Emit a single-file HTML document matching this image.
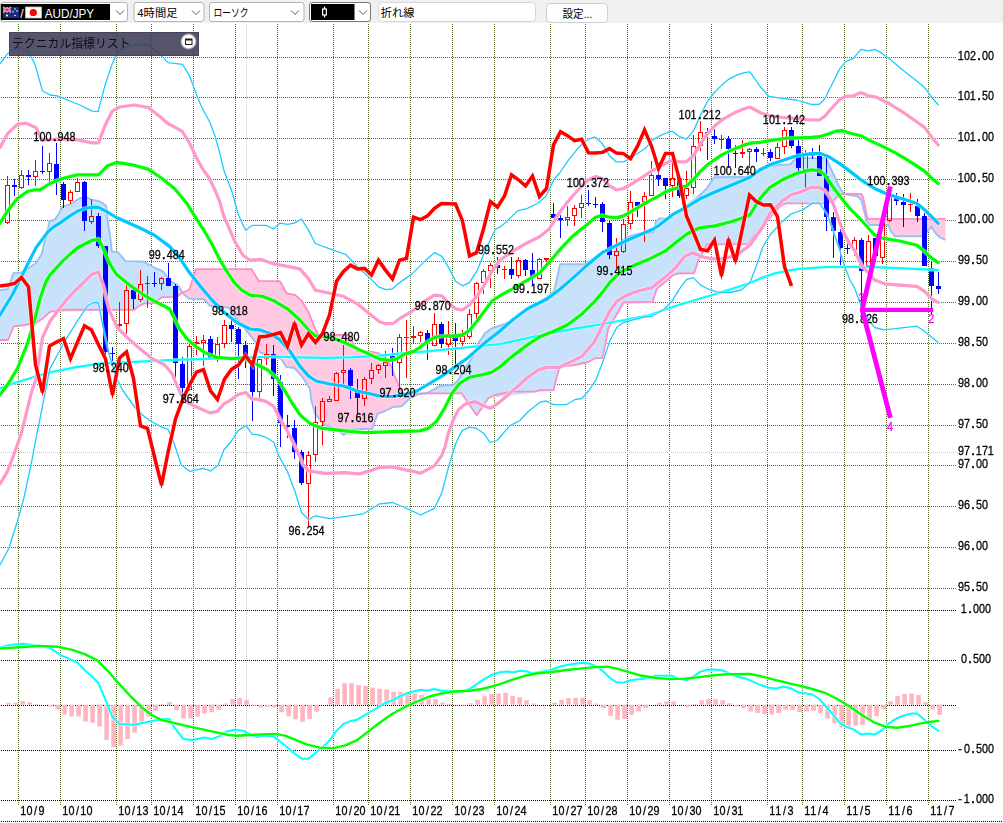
<!DOCTYPE html>
<html><head><meta charset="utf-8"><title>AUD/JPY chart</title>
<style>
html,body{margin:0;padding:0;background:#fff;overflow:hidden}
body{width:1003px;height:823px;position:relative;font-family:"Liberation Sans",sans-serif}
text{white-space:pre}
</style></head><body>
<svg width="1003" height="823" viewBox="0 0 1003 823" style="position:absolute;left:0;top:0">
<g shape-rendering="crispEdges" fill="none" stroke-width="1">
<g stroke="#556b2f" stroke-dasharray="1 1">
<line x1="18.5" y1="24" x2="18.5" y2="806"/>
<line x1="60.5" y1="24" x2="60.5" y2="806"/>
<line x1="116.5" y1="24" x2="116.5" y2="806"/>
<line x1="151.5" y1="24" x2="151.5" y2="806"/>
<line x1="193.5" y1="24" x2="193.5" y2="806"/>
<line x1="235.5" y1="24" x2="235.5" y2="806"/>
<line x1="277.5" y1="24" x2="277.5" y2="806"/>
<line x1="333.5" y1="24" x2="333.5" y2="806"/>
<line x1="368.5" y1="24" x2="368.5" y2="806"/>
<line x1="410.5" y1="24" x2="410.5" y2="806"/>
<line x1="452.5" y1="24" x2="452.5" y2="806"/>
<line x1="494.5" y1="24" x2="494.5" y2="806"/>
<line x1="550.5" y1="24" x2="550.5" y2="806"/>
<line x1="585.5" y1="24" x2="585.5" y2="806"/>
<line x1="627.5" y1="24" x2="627.5" y2="806"/>
<line x1="669.5" y1="24" x2="669.5" y2="806"/>
<line x1="711.5" y1="24" x2="711.5" y2="806"/>
<line x1="767.5" y1="24" x2="767.5" y2="806"/>
<line x1="802.5" y1="24" x2="802.5" y2="806"/>
<line x1="844.5" y1="24" x2="844.5" y2="806"/>
<line x1="886.5" y1="24" x2="886.5" y2="806"/>
<line x1="928.5" y1="24" x2="928.5" y2="806"/>
<line x1="1" y1="57.5" x2="957" y2="57.5"/>
<line x1="1" y1="97.5" x2="957" y2="97.5"/>
<line x1="1" y1="138.5" x2="957" y2="138.5"/>
<line x1="1" y1="179.5" x2="957" y2="179.5"/>
<line x1="1" y1="220.5" x2="957" y2="220.5"/>
<line x1="1" y1="261.5" x2="957" y2="261.5"/>
<line x1="1" y1="302.5" x2="957" y2="302.5"/>
<line x1="1" y1="343.5" x2="957" y2="343.5"/>
<line x1="1" y1="384.5" x2="957" y2="384.5"/>
<line x1="1" y1="425.5" x2="957" y2="425.5"/>
<line x1="1" y1="465.5" x2="957" y2="465.5"/>
<line x1="1" y1="506.5" x2="957" y2="506.5"/>
<line x1="1" y1="547.5" x2="957" y2="547.5"/>
<line x1="1" y1="588.5" x2="957" y2="588.5"/>
</g>
<g stroke="#c8c8c8" stroke-dasharray="1 1"><line x1="246.5" y1="24" x2="246.5" y2="800"/><line x1="1" y1="452.5" x2="957" y2="452.5"/></g>
<g stroke="#000" stroke-dasharray="1 1">
<line x1="1" y1="610.5" x2="957" y2="610.5"/>
<line x1="1" y1="660.5" x2="957" y2="660.5"/>
<line x1="1" y1="705.5" x2="957" y2="705.5"/>
<line x1="1" y1="750.5" x2="957" y2="750.5"/>
<line x1="1" y1="800.5" x2="957" y2="800.5"/>
<line x1="1" y1="821.5" x2="1003" y2="821.5"/>
</g></g>
<polygon fill="#c8e2fb" points="0,290 7.5,289.2 13.5,273.3 22,272.3 36,263 41.5,254.5 48.5,226.4 49.5,221.3 55,219.4 62.5,206.3 70,204.4 80,198.1 87.5,197.5 91.5,200 97.5,200.6 106,206 106.5,208.6 107.5,220 110,235 112,251.8 118,252.4 125.5,261 144,261.9 162.5,271.1 171.5,281.9 177.5,284.9 183,293.1 183,292.3 181.5,292.9 178,296.1 161.5,297.4 155,303 144,303.6 134.5,309.7 50,311.9 36.5,322.4 14,326.3 13.5,327 8,340 0,340"/>
<polygon fill="#ffc8e3" points="183,293.1 189,298.6 203.5,299.2 210,305.8 228,307.5 255,341.7 260,352.5 281,358.7 286.5,367 294.5,368 309.5,388.2 310,389.6 311.5,400.7 315,413.8 325,425 337.5,430 343.5,434.8 344,434.9 347.5,432.5 350,429.4 372.5,428.8 377.5,413.8 393.5,407 401.5,406.3 410,398.3 418.5,394.2 427,393.1 427,393.3 403.5,393.3 400,388.3 391.5,366.4 387,360 379.5,353.6 357.5,351.1 357,350.7 348.5,335 318.5,335 318,334.4 308.5,312.2 301.5,300.6 295,295 286.5,292.9 280,281.3 258.5,280.8 251.5,269.2 196,269.2 195.5,270.2 189.5,289.2 189,289.7 183,292.3"/>
<polygon fill="#c8e2fb" points="427,393.1 440,385.8 453,385 458.5,379.7 472,357.6 485,333.3 492,328.2 508.5,322.4 554,291.2 560,264.2 585.5,264.2 633.5,235 653,232.3 653.5,231.5 656,222 659.5,218.4 669.5,218.2 672.5,214.7 706.5,188.5 714,177.5 750,177 777.5,165 790,164.4 795,159.4 797.5,158.1 826,158.1 826.5,158.6 843.5,193.5 844,194 844,193.8 840,194.7 831.5,201.7 787,203.3 781.5,205.2 761.5,230.2 753.5,236.5 748.5,243.9 748,244.2 707,244.4 698.5,260.1 694,273.3 673.5,274.9 656.5,289.8 652.5,302 623.5,302.5 608.5,328 602.5,358 595,358.3 588.5,361.9 560,366.5 559.5,367.6 553.5,390.3 488.5,398.2 477,414.9 476.5,415 461.5,393.3 427,393.3"/>
<polygon fill="#ffc8e3" points="844,194 857.5,196.3 861,199.7 866.5,220.3 869.5,225 888.5,225 889,225.8 890,230 895,236.3 922.5,236.3 931.5,226.5 935,232.5 940,237.5 945.5,240 945.5,218.8 867.5,218.8 863,197.3 861.5,194.2 861,193.8 844,193.8"/>
<polyline fill="none" stroke="#98c2f4" stroke-width="1.9" stroke-linejoin="round" points="0,290 7.5,289.2 11.7,278.3 13.3,273.3 21.7,272.5 25.8,270 35.8,263.3 41.7,254.2 44.2,243.3 48.3,227.5 49.4,221.3 55,219.4 58.8,213.8 62.5,206.3 70,204.4 75,201.3 80,198.1 87.5,197.5 91.3,200 97.5,200.6 102.5,203.1 106.3,206.3 107.5,220 110,235 111.9,251.8 118.1,252.4 125.6,261.1 143.8,261.8 155,268 162.5,271.1 171.3,281.8 177.5,284.9 183.8,294.3 188.8,298.6 203.8,299.2 210,305.8 228.3,307.5 235,316.7 246.7,330.8 255,341.7 260,352.5 281.3,358.8 286.3,367 294.5,368 302.5,377 309.9,388.8 311.3,400 315,413.8 325,425 337.5,430 343.8,435 347.5,432.5 350,429.4 372.5,428.8 377.5,413.8 385,411 393.5,407 401.7,406.3 410,398.3 418.3,394.2 426.7,393.3 440,385.8 453.3,385 458.3,380 465,368.3 471.7,358.3 478.3,343.3 485,333.3 491.7,328.3 501.7,325 508.3,322.5 520,314.5 540,303 554.2,291 560,264.2 585.8,264.2 590,260.8 602,252.5 616,245.3 626.7,237.5 633.3,235 640,233.5 653.3,232.3 655.8,222.2 659.5,218.4 669.5,218.2 672.5,214.7 686.4,207.2 696.7,198.4 706.7,188.3 714.2,177.2 750,177 760,171.5 770,166.5 777.5,165 790,164.4 795,159.4 797.5,158.1 826.3,158.1 828.8,163.8 831.5,170 835,177.5 838.8,186 843.8,194 857.5,196.3 861.3,200 866.3,220 869.4,225 888.8,225 890,230 895,236.3 922.5,236.3 928.8,230 931.5,226.5 935,232.5 939.9,237.5 945.5,240"/>
<polyline fill="none" stroke="#ff8cc6" stroke-width="1.8" stroke-linejoin="round" points="0,340 8,340 13.8,326.3 25,325 36.3,322.5 42.5,318.8 50,311.9 55,311 65,309.6 134.4,309.8 138.8,306.1 143.8,303.6 155,303 161.3,297.4 172.5,296.8 178.1,296.1 181.3,293 189.4,289.5 191.9,281.8 195.8,269.2 251.7,269.2 258.5,280.8 280,281.3 286.7,293.3 295,295 301.7,300.8 308.3,311.7 315,328.3 318.3,335 348.5,335 357.2,351.1 370.9,351.6 379.6,353.6 387,360 391.7,366.7 395,376.7 400,388.3 403.3,393.3 461.6,393.3 468.3,403.3 476.7,415.3 481.7,408.3 488.3,398.3 495,395 511.7,391.7 535,391.7 540,390 553.6,390.3 556,380 559.8,366.5 575,365 588.3,362 595,358.3 602.5,358 605.8,341.7 608.3,328.3 613.3,320 618.3,311.7 623.3,302.5 652.5,302 656.7,289.2 658.3,287.5 673.3,275 678.3,273.3 694.2,273.3 698.3,260.5 702.5,253 706.9,244.4 748.3,244.2 753.3,236.7 761.7,230 768.3,220 773.3,213.3 781.7,205 786.7,203.3 823.3,203.3 831.7,201.7 836.7,197.5 840,194.7 843.8,193.8 861.3,193.8 863.1,197.5 867.5,218.8 945.5,218.8"/>
<g shape-rendering="crispEdges">
<path d="M7.5 176V185M7.5 223V224M21.5 170V175M21.5 188V189M35.5 160V171M35.5 177V186M49.5 153V163M49.5 172V184M70.5 190V192M70.5 201V204M77.5 178V182M91.5 199V216M91.5 222V224M119.5 302V324M119.5 326V330M117.0 324.5H122.0M117.0 325.5H122.0M126.5 283V290M126.5 324V334M140.5 270V284M140.5 300V302M147.5 276V283M147.5 284V308M145.0 283.5H150.0M161.5 277V278M161.5 284V290M189.5 343V346M189.5 390V391M196.5 336V342M196.5 344V355M194.0 342.5H199.0M194.0 343.5H199.0M203.5 335V340M203.5 343V366M217.5 337V344M217.5 358V362M224.5 320V325M224.5 344V348M259.5 358V359M259.5 392V402M266.5 344V354M266.5 359V365M308.5 451V455M308.5 484V527M315.5 406V422M315.5 455V462M322.5 398V401M322.5 422V445M329.5 396V399M336.5 372V373M343.5 345V370M343.5 373V384M364.5 377V379M364.5 399V406M371.5 363V370M371.5 379V384M378.5 364V365M378.5 370V374M385.5 351V362M385.5 366V378M399.5 334V337M399.5 363V390M406.5 320V337M406.5 338V378M404.0 337.5H409.0M413.5 326V336M413.5 338V344M411.0 336.5H416.0M411.0 337.5H416.0M420.5 331V332M420.5 336V342M434.5 313V324M448.5 321V334M448.5 345V355M462.5 330V336M462.5 342V346M469.5 309V314M469.5 337V339M476.5 282V283M476.5 314V319M483.5 269V271M483.5 283V294M490.5 263V265M490.5 271V288M504.5 266V269M504.5 270V279M502.0 269.5H507.0M518.5 257V260M518.5 276V278M539.5 258V259M546.5 260V262M544.0 258.5H549.0M544.0 259.5H549.0M567.5 206V217M567.5 220V226M574.5 205V208M574.5 216V226M581.5 195V203M581.5 208V218M616.5 238V251M616.5 256V268M623.5 219V224M623.5 252V253M630.5 191V202M630.5 224V229M644.5 192V196M644.5 202V242M651.5 161V175M672.5 162V178M672.5 186V197M686.5 171V188M686.5 196V199M693.5 135V146M693.5 188V194M700.5 121V132M700.5 146V151M721.5 135V139M721.5 140V149M719.0 139.5H724.0M742.5 140V152M742.5 154V158M740.0 152.5H745.0M740.0 153.5H745.0M749.5 148V149M749.5 152V168M763.5 148V153M763.5 154V156M761.0 153.5H766.0M777.5 143V147M784.5 127V130M784.5 147V154M805.5 150V153M805.5 170V188M854.5 237V240M854.5 250V256M868.5 235V241M868.5 266V268M882.5 220V223M882.5 258V264M889.5 188V196M889.5 221V222M910.5 193V204M910.5 205V212M908.0 204.5H913.0" stroke="#f00" stroke-width="1" fill="none"/>
<path d="M5.5 185.5H9.5V222.5H5.5ZM19.5 175.5H23.5V187.5H19.5ZM33.5 171.5H37.5V176.5H33.5ZM47.5 163.5H51.5V171.5H47.5ZM68.5 192.5H72.5V200.5H68.5ZM75.5 182.5H79.5V191.5H75.5ZM89.5 216.5H93.5V221.5H89.5ZM124.5 290.5H128.5V323.5H124.5ZM138.5 284.5H142.5V299.5H138.5ZM159.5 278.5H163.5V283.5H159.5ZM187.5 346.5H191.5V389.5H187.5ZM201.5 340.5H205.5V342.5H201.5ZM215.5 344.5H219.5V357.5H215.5ZM222.5 325.5H226.5V343.5H222.5ZM257.5 359.5H261.5V391.5H257.5ZM264.5 354.5H268.5V358.5H264.5ZM306.5 455.5H310.5V483.5H306.5ZM313.5 422.5H317.5V454.5H313.5ZM320.5 401.5H324.5V421.5H320.5ZM327.5 399.5H331.5V401.5H327.5ZM334.5 373.5H338.5V400.5H334.5ZM341.5 370.5H345.5V372.5H341.5ZM362.5 379.5H366.5V398.5H362.5ZM369.5 370.5H373.5V378.5H369.5ZM376.5 365.5H380.5V369.5H376.5ZM383.5 362.5H387.5V365.5H383.5ZM397.5 337.5H401.5V362.5H397.5ZM418.5 332.5H422.5V335.5H418.5ZM432.5 324.5H436.5V345.5H432.5ZM446.5 334.5H450.5V344.5H446.5ZM460.5 336.5H464.5V341.5H460.5ZM467.5 314.5H471.5V336.5H467.5ZM474.5 283.5H478.5V313.5H474.5ZM481.5 271.5H485.5V282.5H481.5ZM488.5 265.5H492.5V270.5H488.5ZM516.5 260.5H520.5V275.5H516.5ZM537.5 259.5H541.5V278.5H537.5ZM565.5 217.5H569.5V219.5H565.5ZM572.5 208.5H576.5V215.5H572.5ZM579.5 203.5H583.5V207.5H579.5ZM614.5 251.5H618.5V255.5H614.5ZM621.5 224.5H625.5V251.5H621.5ZM628.5 202.5H632.5V223.5H628.5ZM642.5 196.5H646.5V201.5H642.5ZM649.5 175.5H653.5V195.5H649.5ZM670.5 178.5H674.5V185.5H670.5ZM684.5 188.5H688.5V195.5H684.5ZM691.5 146.5H695.5V187.5H691.5ZM698.5 132.5H702.5V145.5H698.5ZM747.5 149.5H751.5V151.5H747.5ZM775.5 147.5H779.5V158.5H775.5ZM782.5 130.5H786.5V146.5H782.5ZM803.5 153.5H807.5V169.5H803.5ZM852.5 240.5H856.5V249.5H852.5ZM866.5 241.5H870.5V265.5H866.5ZM880.5 223.5H884.5V257.5H880.5ZM887.5 196.5H891.5V220.5H887.5Z" stroke="#f00" stroke-width="1" fill="none"/>
<path d="M14.5 179V196M28.5 170V185M42.5 146V174M56.5 143V195M63.5 182V208M84.5 181V231M98.5 213V248M105.5 246V355M112.5 347V364M133.5 289V309M154.5 272V287M168.5 263V286M175.5 284V378M182.5 357V395M210.5 336V358M231.5 317V342M238.5 327V379M245.5 341V368M252.5 362V421M273.5 345V396M280.5 375V447M287.5 415V438M294.5 420V459M301.5 450V485M350.5 368V399M357.5 379V415M392.5 348V376M427.5 330V360M441.5 322V348M455.5 323V367M497.5 257V274M511.5 257V279M525.5 259V276M532.5 253V286M553.5 203V218M560.5 215V238M588.5 190V206M595.5 197V208M602.5 202V232M609.5 221V259M637.5 202V217M658.5 172V186M665.5 178V199M679.5 178V198M707.5 128V160M714.5 129V144M728.5 136V168M735.5 145V168M756.5 147V162M770.5 149V161M791.5 127V148M798.5 140V173M812.5 148V159M819.5 145V176M826.5 158V231M833.5 212V258M840.5 229V265M847.5 242V254M861.5 238V316M875.5 238V258M896.5 193V205M903.5 194V227M917.5 199V222M924.5 213V266M931.5 262V314M938.5 272V294" stroke="#00f" stroke-width="1" fill="none"/>
<path d="M12.0 185H17.0V187H12.0ZM26.0 175H31.0V177H26.0ZM40.0 171H45.0V172H40.0ZM54.0 164H59.0V180H54.0ZM61.0 184H66.0V200H61.0ZM82.0 182H87.0V221H82.0ZM96.0 216H101.0V246H96.0ZM103.0 246H108.0V352H103.0ZM110.0 353H115.0V354H110.0ZM131.0 290H136.0V299H131.0ZM152.0 283H157.0V284H152.0ZM166.0 278H171.0V286H166.0ZM173.0 286H178.0V363H173.0ZM180.0 364H185.0V388H180.0ZM208.0 339H213.0V358H208.0ZM229.0 325H234.0V329H229.0ZM236.0 329H241.0V344H236.0ZM243.0 345H248.0V355H243.0ZM250.0 365H255.0V392H250.0ZM271.0 354H276.0V379H271.0ZM278.0 382H283.0V423H278.0ZM285.0 425H290.0V427H285.0ZM292.0 428H297.0V452H292.0ZM299.0 452H304.0V483H299.0ZM348.0 370H353.0V386H348.0ZM355.0 392H360.0V398H355.0ZM390.0 356H395.0V360H390.0ZM425.0 333H430.0V342H425.0ZM439.0 324H444.0V344H439.0ZM453.0 334H458.0V341H453.0ZM495.0 265H500.0V268H495.0ZM509.0 269H514.0V275H509.0ZM523.0 260H528.0V270H523.0ZM530.0 270H535.0V277H530.0ZM551.0 214H556.0V218H551.0ZM558.0 218H563.0V220H558.0ZM586.0 203H591.0V204H586.0ZM593.0 204H598.0V205H593.0ZM600.0 204H605.0V222H600.0ZM607.0 223H612.0V255H607.0ZM635.0 202H640.0V206H635.0ZM656.0 175H661.0V179H656.0ZM663.0 178H668.0V186H663.0ZM677.0 178H682.0V196H677.0ZM705.0 132H710.0V134H705.0ZM712.0 136H717.0V139H712.0ZM726.0 139H731.0V149H726.0ZM733.0 153H738.0V154H733.0ZM754.0 149H759.0V152H754.0ZM768.0 152H773.0V158H768.0ZM789.0 130H794.0V146H789.0ZM796.0 146H801.0V168H796.0ZM810.0 154H815.0V156H810.0ZM817.0 156H822.0V176H817.0ZM824.0 176H829.0V217H824.0ZM831.0 217H836.0V231H831.0ZM838.0 232H843.0V248H838.0ZM845.0 248H850.0V249H845.0ZM859.0 240H864.0V271H859.0ZM873.0 238H878.0V256H873.0ZM894.0 198H899.0V201H894.0ZM901.0 202H906.0V205H901.0ZM915.0 206H920.0V216H915.0ZM922.0 216H927.0V266H922.0ZM929.0 268H934.0V286H929.0ZM936.0 286H941.0V289H936.0Z" fill="#00f"/>
</g>
<g fill="none" stroke-linejoin="round" stroke-linecap="round">
<polyline points="0,388.5 12.5,383.5 24.9,379.8 49.9,372.3 74.8,367.3 99.7,363.6 124.6,362.4 149.6,361.1 174.5,359.9 199.4,359.1 224.3,358.1 250,357.4 274.9,356.6 299.9,357.4 324.8,357.9 349.7,357.4 374.6,356.1 399.6,353.6 424.5,351.6 449.4,349.1 474.3,346.6 500,344 524.9,338.7 549.9,333.2 574.8,328.7 599.7,324.5 624.6,320 649.6,315 674.5,306.3 699.4,298.8 724.3,291.3 750,283 762.5,277.6 774.9,273.4 787.4,270.6 799.9,268.9 824.8,267.1 849.7,266.9 874.6,267.1 899.6,268.1 924.5,269.4 938.2,270.1" stroke="#fff" stroke-opacity=".55" stroke-width="3.6"/><polyline points="0,388.5 12.5,383.5 24.9,379.8 49.9,372.3 74.8,367.3 99.7,363.6 124.6,362.4 149.6,361.1 174.5,359.9 199.4,359.1 224.3,358.1 250,357.4 274.9,356.6 299.9,357.4 324.8,357.9 349.7,357.4 374.6,356.1 399.6,353.6 424.5,351.6 449.4,349.1 474.3,346.6 500,344 524.9,338.7 549.9,333.2 574.8,328.7 599.7,324.5 624.6,320 649.6,315 674.5,306.3 699.4,298.8 724.3,291.3 750,283 762.5,277.6 774.9,273.4 787.4,270.6 799.9,268.9 824.8,267.1 849.7,266.9 874.6,267.1 899.6,268.1 924.5,269.4 938.2,270.1" stroke="#00ffff" stroke-width="2.2"/>
<polyline points="0,63.9 7.5,53.9 15,48.4 21.2,47.7 28.7,52.7 34.9,63.9 42.4,90.8 49.9,95 57.3,95.8 67.3,100 79.8,105 92.2,111.2 98,111.7 104.7,86.3 112.2,63.9 117.1,52.7 124.6,47.7 134.6,45.2 148.3,44.4 159.5,53.9 168.2,62.6 182.5,64.4 189.4,75.6 193.8,87.5 198.1,98.8 202.5,108.8 210,122.5 215,136.3 220,153.8 223.8,170 227.5,180 231.9,191.3 235.6,205 238.1,213.8 241.9,222.5 245.6,230.3 252.5,225.3 266.3,225.3 273.5,229 280,223.1 287.5,224.4 294.4,223.1 301.3,219 308.1,229.4 315.3,243.5 329.8,248.9 346,254.7 357.2,266.4 370.9,278.9 378.4,286.8 385.8,289.6 392.6,288.8 399.6,282.6 412,273.9 424.5,261.4 434.4,252.7 441.9,256.4 449.4,268.9 455.6,281.3 462.4,285.8 469.3,282.6 476.8,271.4 484.3,252.7 491.8,236.5 495.5,229 500,227.1 507.5,220.9 517.4,210.9 527.4,208.4 537.4,203.5 546.1,196 553.6,180 560,172.5 567.5,161.3 577.5,148.8 585,141.3 590,138.5 595,136.9 602.5,143.8 610,156.3 616.3,161.9 623.8,161.9 630,158.1 635,155 645,148.8 652.5,140 660,135.6 667.5,132.5 672.5,131.3 678.8,136.3 686.4,139.2 693.2,131.2 700.6,115 707.6,101.3 714.4,92.5 721.8,85.1 729.3,78.8 736.8,75.1 744.3,72.6 750,71.9 760,86.3 768.7,96.3 782.4,98.3 796.1,100 811.1,104.3 819.3,104.3 824.8,98.8 832.3,83.8 839.7,68.9 846,61.4 853.4,58.4 860.9,49.4 868.4,50.9 875.1,49.4 882.1,53.4 889.6,58.9 904.5,71.4 917,81.3 924.5,87.6 932,97.5 938.2,105" stroke="#fff" stroke-opacity=".55" stroke-width="2.7"/><polyline points="0,63.9 7.5,53.9 15,48.4 21.2,47.7 28.7,52.7 34.9,63.9 42.4,90.8 49.9,95 57.3,95.8 67.3,100 79.8,105 92.2,111.2 98,111.7 104.7,86.3 112.2,63.9 117.1,52.7 124.6,47.7 134.6,45.2 148.3,44.4 159.5,53.9 168.2,62.6 182.5,64.4 189.4,75.6 193.8,87.5 198.1,98.8 202.5,108.8 210,122.5 215,136.3 220,153.8 223.8,170 227.5,180 231.9,191.3 235.6,205 238.1,213.8 241.9,222.5 245.6,230.3 252.5,225.3 266.3,225.3 273.5,229 280,223.1 287.5,224.4 294.4,223.1 301.3,219 308.1,229.4 315.3,243.5 329.8,248.9 346,254.7 357.2,266.4 370.9,278.9 378.4,286.8 385.8,289.6 392.6,288.8 399.6,282.6 412,273.9 424.5,261.4 434.4,252.7 441.9,256.4 449.4,268.9 455.6,281.3 462.4,285.8 469.3,282.6 476.8,271.4 484.3,252.7 491.8,236.5 495.5,229 500,227.1 507.5,220.9 517.4,210.9 527.4,208.4 537.4,203.5 546.1,196 553.6,180 560,172.5 567.5,161.3 577.5,148.8 585,141.3 590,138.5 595,136.9 602.5,143.8 610,156.3 616.3,161.9 623.8,161.9 630,158.1 635,155 645,148.8 652.5,140 660,135.6 667.5,132.5 672.5,131.3 678.8,136.3 686.4,139.2 693.2,131.2 700.6,115 707.6,101.3 714.4,92.5 721.8,85.1 729.3,78.8 736.8,75.1 744.3,72.6 750,71.9 760,86.3 768.7,96.3 782.4,98.3 796.1,100 811.1,104.3 819.3,104.3 824.8,98.8 832.3,83.8 839.7,68.9 846,61.4 853.4,58.4 860.9,49.4 868.4,50.9 875.1,49.4 882.1,53.4 889.6,58.9 904.5,71.4 917,81.3 924.5,87.6 932,97.5 938.2,105" stroke="#1ccbff" stroke-width="1.3"/>
<polyline points="0,564.9 8.7,548.7 17.4,521.2 23.7,498.8 31.2,463.9 36.9,434 49.9,368.6 64.8,341.2 77.3,321.2 87.2,306.3 93.5,302.5 98.5,303 103.8,331 110,357.5 117.5,380 122.5,390 135,407.5 142.5,415 151.3,421.5 161.3,426.9 168.1,429.4 173.8,442.5 181.3,465 189.9,471.4 203.1,468.4 210.6,470.9 218.1,465.2 223.9,449.8 230.9,441.8 237.9,430.8 245.9,425.4 252.3,434.3 258.8,434.8 265.8,437.3 273.8,442.3 278.8,455.8 287.4,471.4 294.9,491.3 301.6,512.5 308.6,519.5 315.3,515.8 329.8,518.7 349.7,515.8 363.4,513.8 369.6,510 379.6,503.8 392.6,502.5 404.5,507.5 420.7,515 434.4,508.3 441.9,492.6 449.4,463.9 455.6,444 461.9,430.9 469.3,427.2 476.8,428.4 484.3,434 490,442.5 497.5,440 503,433.5 510,425.6 520,420.5 527.4,412.2 539.9,402.2 546.1,401 553.6,404.7 566.1,404.7 574.8,399.7 581.8,398.5 588.5,391 596,379.8 602.2,363.6 609.7,341.2 616.7,327.5 623.4,322.5 630.1,320.7 642.1,317.5 652,316.2 664.5,308.8 672,301.3 679.5,288.8 686.4,279.6 693.2,277.6 700.6,285.1 707.6,288.8 716.8,291.8 730,292.5 741.3,290 750,282.5 756.3,266.3 762.5,247.5 770,235 780,223.8 791.3,213.8 802.5,210 812.5,203.1 819.4,203.1 827.5,215 833.8,232.5 840,251.3 845,267.5 850,280 854.9,288.8 862.2,308.8 869.6,321.2 874.6,327.5 884.6,329.9 899.6,328.2 917,326.2 924.5,331.2 932,337.4 938.2,342.4" stroke="#fff" stroke-opacity=".55" stroke-width="2.7"/><polyline points="0,564.9 8.7,548.7 17.4,521.2 23.7,498.8 31.2,463.9 36.9,434 49.9,368.6 64.8,341.2 77.3,321.2 87.2,306.3 93.5,302.5 98.5,303 103.8,331 110,357.5 117.5,380 122.5,390 135,407.5 142.5,415 151.3,421.5 161.3,426.9 168.1,429.4 173.8,442.5 181.3,465 189.9,471.4 203.1,468.4 210.6,470.9 218.1,465.2 223.9,449.8 230.9,441.8 237.9,430.8 245.9,425.4 252.3,434.3 258.8,434.8 265.8,437.3 273.8,442.3 278.8,455.8 287.4,471.4 294.9,491.3 301.6,512.5 308.6,519.5 315.3,515.8 329.8,518.7 349.7,515.8 363.4,513.8 369.6,510 379.6,503.8 392.6,502.5 404.5,507.5 420.7,515 434.4,508.3 441.9,492.6 449.4,463.9 455.6,444 461.9,430.9 469.3,427.2 476.8,428.4 484.3,434 490,442.5 497.5,440 503,433.5 510,425.6 520,420.5 527.4,412.2 539.9,402.2 546.1,401 553.6,404.7 566.1,404.7 574.8,399.7 581.8,398.5 588.5,391 596,379.8 602.2,363.6 609.7,341.2 616.7,327.5 623.4,322.5 630.1,320.7 642.1,317.5 652,316.2 664.5,308.8 672,301.3 679.5,288.8 686.4,279.6 693.2,277.6 700.6,285.1 707.6,288.8 716.8,291.8 730,292.5 741.3,290 750,282.5 756.3,266.3 762.5,247.5 770,235 780,223.8 791.3,213.8 802.5,210 812.5,203.1 819.4,203.1 827.5,215 833.8,232.5 840,251.3 845,267.5 850,280 854.9,288.8 862.2,308.8 869.6,321.2 874.6,327.5 884.6,329.9 899.6,328.2 917,326.2 924.5,331.2 932,337.4 938.2,342.4" stroke="#1ccbff" stroke-width="1.3"/>
<polyline points="0,147.4 7.5,133.7 17.4,124.4 26.2,123.2 36.3,127.9 41.9,140.5 56.3,139.1 77.3,139.9 92.2,142.9 98.5,142.9 104.7,126.2 112.2,111.2 119.6,107 134.6,105 148.3,107.5 159.5,116.2 168.2,123.7 182,131.2 190,143.8 196.3,157.5 202.5,168.8 208.8,177.5 215,190 220,202.5 223.8,216.3 228.8,227.5 235,241.9 243,255.2 250,260.2 261.2,259.4 273.7,263.9 287.4,266.4 299.9,268.9 308.6,278.9 315.3,290.1 329.8,293.3 343.5,296.3 357.2,303.8 370.9,315 379.6,321.7 385.8,323.7 392.6,323.7 399.6,318.7 412,311.3 424.5,301.3 434.4,295.1 441.9,295.8 449.4,303.8 455.6,308.8 462.4,310 469.3,305 476.8,296.3 484.3,285.1 491.8,271.4 500,260.2 512.5,251.4 527.4,242.7 539.9,236.5 549.2,229 560.6,210.9 567.3,202.2 574.8,193.5 581.8,186 588.5,179.8 595.5,176.5 602.2,178.5 609.7,186 616.7,189.8 623.4,188.5 630.1,184.8 642.1,177.3 651.5,171.1 658.8,167.3 665.3,163.6 672.5,159.8 679.5,161.8 686.4,161.8 693.2,156.1 700.6,143.6 707.6,133.7 714.4,126.2 721.8,120 729.3,115.7 736.8,111.7 744.3,108.7 750,107 760,112.5 768.7,115.7 782.4,117.5 796.1,118.7 811.1,120 819.3,120 824.8,116.2 832.3,107.5 839.7,99.5 846,96.3 853.4,95.8 860.9,92.5 868.4,95.8 875.1,96.8 882.1,100 889.6,103.8 904.5,113.2 917,122 924.5,127.4 932,137.4 938.2,144.9" stroke="#fff" stroke-opacity=".55" stroke-width="4.6"/><polyline points="0,147.4 7.5,133.7 17.4,124.4 26.2,123.2 36.3,127.9 41.9,140.5 56.3,139.1 77.3,139.9 92.2,142.9 98.5,142.9 104.7,126.2 112.2,111.2 119.6,107 134.6,105 148.3,107.5 159.5,116.2 168.2,123.7 182,131.2 190,143.8 196.3,157.5 202.5,168.8 208.8,177.5 215,190 220,202.5 223.8,216.3 228.8,227.5 235,241.9 243,255.2 250,260.2 261.2,259.4 273.7,263.9 287.4,266.4 299.9,268.9 308.6,278.9 315.3,290.1 329.8,293.3 343.5,296.3 357.2,303.8 370.9,315 379.6,321.7 385.8,323.7 392.6,323.7 399.6,318.7 412,311.3 424.5,301.3 434.4,295.1 441.9,295.8 449.4,303.8 455.6,308.8 462.4,310 469.3,305 476.8,296.3 484.3,285.1 491.8,271.4 500,260.2 512.5,251.4 527.4,242.7 539.9,236.5 549.2,229 560.6,210.9 567.3,202.2 574.8,193.5 581.8,186 588.5,179.8 595.5,176.5 602.2,178.5 609.7,186 616.7,189.8 623.4,188.5 630.1,184.8 642.1,177.3 651.5,171.1 658.8,167.3 665.3,163.6 672.5,159.8 679.5,161.8 686.4,161.8 693.2,156.1 700.6,143.6 707.6,133.7 714.4,126.2 721.8,120 729.3,115.7 736.8,111.7 744.3,108.7 750,107 760,112.5 768.7,115.7 782.4,117.5 796.1,118.7 811.1,120 819.3,120 824.8,116.2 832.3,107.5 839.7,99.5 846,96.3 853.4,95.8 860.9,92.5 868.4,95.8 875.1,96.8 882.1,100 889.6,103.8 904.5,113.2 917,122 924.5,127.4 932,137.4 938.2,144.9" stroke="#ff99cc" stroke-width="3.2"/>
<polyline points="0,483.9 7.5,471.4 15,451.4 21.2,434 31.3,392.9 36.3,377.5 38.8,360 42.5,337.5 50,321.3 57.5,311.3 66.3,300 74.8,291 84.7,281.3 92.2,273.9 98.5,271.9 103.4,286.3 109.7,311.3 117.1,327.5 127.1,337.4 139.6,348.6 152,358.6 164.5,364.8 172,373.6 178.2,388.5 184.4,401 196.9,407.2 210,412.9 217.4,411.4 223.9,403.9 230.9,399.9 237.9,394.5 245.9,392.5 251.8,398.9 258.8,399.4 265.8,401.4 273.8,406.4 278.8,416.9 287.7,431.8 293.7,443.8 300,456.8 303,464.5 308.6,470.9 324.8,473.4 344.7,472.6 359.7,473.9 369.6,470.9 379.6,467.6 392.6,466.9 404.5,469.6 420.7,473.1 434.4,465.9 441.9,455.2 445,447 448.3,433.2 453.3,419.9 458.3,409.9 465,404.1 475,401.6 483.3,405.7 490.8,408.2 498.3,403.2 511.7,391.6 526.7,378.3 538.3,369.9 546.7,367.4 559.8,367.3 572.3,361.1 582.3,356.1 594.7,341.2 602.2,326.2 609.7,311.3 616.7,301.3 624.6,296.3 637.1,291.3 652,287.6 664.5,277.6 674.5,268.9 684.4,256.4 693.2,252.7 700.6,256.4 711.9,258.9 724.3,258.4 736.8,255.2 750,245 761.2,229 769.9,213.4 782.4,201 791.1,194.7 799.9,192.2 811.1,187.3 819.3,187.3 824.8,190.5 828.8,195.5 833.8,205.5 838.8,220 843.8,232.5 848.8,242.5 854.9,251 857.2,256.4 862.2,266.4 869.6,273.9 874.6,280.1 884.6,283.8 899.6,285.1 917,286.3 924.5,291.3 932,298.8 938.2,302.5" stroke="#fff" stroke-opacity=".55" stroke-width="4.6"/><polyline points="0,483.9 7.5,471.4 15,451.4 21.2,434 31.3,392.9 36.3,377.5 38.8,360 42.5,337.5 50,321.3 57.5,311.3 66.3,300 74.8,291 84.7,281.3 92.2,273.9 98.5,271.9 103.4,286.3 109.7,311.3 117.1,327.5 127.1,337.4 139.6,348.6 152,358.6 164.5,364.8 172,373.6 178.2,388.5 184.4,401 196.9,407.2 210,412.9 217.4,411.4 223.9,403.9 230.9,399.9 237.9,394.5 245.9,392.5 251.8,398.9 258.8,399.4 265.8,401.4 273.8,406.4 278.8,416.9 287.7,431.8 293.7,443.8 300,456.8 303,464.5 308.6,470.9 324.8,473.4 344.7,472.6 359.7,473.9 369.6,470.9 379.6,467.6 392.6,466.9 404.5,469.6 420.7,473.1 434.4,465.9 441.9,455.2 445,447 448.3,433.2 453.3,419.9 458.3,409.9 465,404.1 475,401.6 483.3,405.7 490.8,408.2 498.3,403.2 511.7,391.6 526.7,378.3 538.3,369.9 546.7,367.4 559.8,367.3 572.3,361.1 582.3,356.1 594.7,341.2 602.2,326.2 609.7,311.3 616.7,301.3 624.6,296.3 637.1,291.3 652,287.6 664.5,277.6 674.5,268.9 684.4,256.4 693.2,252.7 700.6,256.4 711.9,258.9 724.3,258.4 736.8,255.2 750,245 761.2,229 769.9,213.4 782.4,201 791.1,194.7 799.9,192.2 811.1,187.3 819.3,187.3 824.8,190.5 828.8,195.5 833.8,205.5 838.8,220 843.8,232.5 848.8,242.5 854.9,251 857.2,256.4 862.2,266.4 869.6,273.9 874.6,280.1 884.6,283.8 899.6,285.1 917,286.3 924.5,291.3 932,298.8 938.2,302.5" stroke="#ff99cc" stroke-width="3.2"/>
<polyline points="0,223.4 7.5,211 17.4,198.5 27.4,191.5 34.9,189.8 39.9,189.8 49.9,183.5 62.3,178.5 77.3,174.8 98.5,174.8 107.2,166.1 117.1,162.3 132.1,164.8 148.3,169.1 162,178.5 174.5,188.5 186.9,203.5 196.9,219.7 203.1,229 211.9,244 219.3,258.9 226.8,271.4 234.3,282.6 241.8,290.1 250,295.1 262.5,296.3 274.9,301.3 287.4,308.8 299.9,320 309.8,331.2 316,336.2 324.8,336.7 334.7,338.7 347.2,343.7 359.7,349.9 370.9,354.9 379.6,359.1 389.6,360.4 397.1,358.6 404.5,354.1 414.5,351.1 424.5,343.7 434.4,337.4 441.9,336.2 454.4,336.2 461.9,334.9 469.3,330.7 476.8,321.2 484.3,311.3 491.8,301.3 500,295.7 512.5,288.8 527.4,280.1 539.9,272.6 549.9,261.4 560.6,248.9 572.3,236.5 581.5,229 588.5,223.4 595.5,217.2 602.2,215.4 609.7,217.2 616.7,217.9 623.4,215.9 630.1,212.2 642.1,205 651.5,199.8 658.8,195.8 665.3,192 672.5,189.2 679.5,187.3 686.4,186 693.2,179.8 700.6,171.1 707.6,164.8 714.4,159.8 721.8,154.9 729.3,151.1 736.8,147.9 744.3,144.9 750,143.2 760,142.3 774.9,139.9 787.4,138.2 799.9,137.9 811.1,137.4 819.3,136.7 827.3,134.2 836,131.2 842.2,130.7 852.2,133.7 860.9,135.7 868.4,139.9 882.1,146.1 894.6,152.4 904.5,158.1 917,166.1 924.5,171.1 932,178.5 938.2,183.5" stroke="#fff" stroke-opacity=".55" stroke-width="4.6"/><polyline points="0,223.4 7.5,211 17.4,198.5 27.4,191.5 34.9,189.8 39.9,189.8 49.9,183.5 62.3,178.5 77.3,174.8 98.5,174.8 107.2,166.1 117.1,162.3 132.1,164.8 148.3,169.1 162,178.5 174.5,188.5 186.9,203.5 196.9,219.7 203.1,229 211.9,244 219.3,258.9 226.8,271.4 234.3,282.6 241.8,290.1 250,295.1 262.5,296.3 274.9,301.3 287.4,308.8 299.9,320 309.8,331.2 316,336.2 324.8,336.7 334.7,338.7 347.2,343.7 359.7,349.9 370.9,354.9 379.6,359.1 389.6,360.4 397.1,358.6 404.5,354.1 414.5,351.1 424.5,343.7 434.4,337.4 441.9,336.2 454.4,336.2 461.9,334.9 469.3,330.7 476.8,321.2 484.3,311.3 491.8,301.3 500,295.7 512.5,288.8 527.4,280.1 539.9,272.6 549.9,261.4 560.6,248.9 572.3,236.5 581.5,229 588.5,223.4 595.5,217.2 602.2,215.4 609.7,217.2 616.7,217.9 623.4,215.9 630.1,212.2 642.1,205 651.5,199.8 658.8,195.8 665.3,192 672.5,189.2 679.5,187.3 686.4,186 693.2,179.8 700.6,171.1 707.6,164.8 714.4,159.8 721.8,154.9 729.3,151.1 736.8,147.9 744.3,144.9 750,143.2 760,142.3 774.9,139.9 787.4,138.2 799.9,137.9 811.1,137.4 819.3,136.7 827.3,134.2 836,131.2 842.2,130.7 852.2,133.7 860.9,135.7 868.4,139.9 882.1,146.1 894.6,152.4 904.5,158.1 917,166.1 924.5,171.1 932,178.5 938.2,183.5" stroke="#00ff00" stroke-width="3.2"/>
<polyline points="0,394.7 7.5,384.8 17.4,368.6 27.4,343.7 34.9,318.7 39.9,298.8 46.1,281.3 49.9,275.1 62.3,261.4 77.3,247.7 92.2,240.2 98.5,239 103.4,248.9 109.7,263.9 117.1,275.1 129.6,285.1 142.1,293.8 154.5,301.3 169.5,308.8 174.5,318.7 179.5,328.7 186.9,338.7 196.9,347.4 206.9,353.6 216.8,357.4 231.8,358.6 241.8,357.9 250,361.5 257.5,364.8 267.4,369.8 277.4,378.5 284.9,391 292.4,403.5 299.9,414.7 309.8,423.4 322.3,428.4 334.7,429.6 349.7,431.4 364.7,432.6 379.6,432.1 399.6,431.4 419.5,430.9 428.2,428.4 436.9,420.9 444.4,408.5 451.9,393.5 459.4,383.5 469.3,377.3 481.8,374.8 491.8,372.3 500,366.7 512.5,356.1 527.4,344.9 539.9,336.7 554.8,330.7 567.3,325 582.3,313.7 594.7,301.3 602.2,292.6 609.7,282.6 619.6,272.6 634.6,265.1 649.6,258.9 664.5,251.4 677,241.5 686.9,234 696.9,229 699.4,227.9 714.4,225.9 729.3,222.2 744.3,217.2 750,214.7 760,198.5 769.9,187.3 782.4,179.8 796.1,173.5 811.1,169.8 819.3,170.6 824.8,174.8 832.3,186 839.7,196 849.7,208.4 860.9,219.7 868.4,228 874.6,235 882.1,238.2 899.6,241 917,245.2 924.5,251.4 932,258.4 938.2,262.6" stroke="#fff" stroke-opacity=".55" stroke-width="4.6"/><polyline points="0,394.7 7.5,384.8 17.4,368.6 27.4,343.7 34.9,318.7 39.9,298.8 46.1,281.3 49.9,275.1 62.3,261.4 77.3,247.7 92.2,240.2 98.5,239 103.4,248.9 109.7,263.9 117.1,275.1 129.6,285.1 142.1,293.8 154.5,301.3 169.5,308.8 174.5,318.7 179.5,328.7 186.9,338.7 196.9,347.4 206.9,353.6 216.8,357.4 231.8,358.6 241.8,357.9 250,361.5 257.5,364.8 267.4,369.8 277.4,378.5 284.9,391 292.4,403.5 299.9,414.7 309.8,423.4 322.3,428.4 334.7,429.6 349.7,431.4 364.7,432.6 379.6,432.1 399.6,431.4 419.5,430.9 428.2,428.4 436.9,420.9 444.4,408.5 451.9,393.5 459.4,383.5 469.3,377.3 481.8,374.8 491.8,372.3 500,366.7 512.5,356.1 527.4,344.9 539.9,336.7 554.8,330.7 567.3,325 582.3,313.7 594.7,301.3 602.2,292.6 609.7,282.6 619.6,272.6 634.6,265.1 649.6,258.9 664.5,251.4 677,241.5 686.9,234 696.9,229 699.4,227.9 714.4,225.9 729.3,222.2 744.3,217.2 750,214.7 760,198.5 769.9,187.3 782.4,179.8 796.1,173.5 811.1,169.8 819.3,170.6 824.8,174.8 832.3,186 839.7,196 849.7,208.4 860.9,219.7 868.4,228 874.6,235 882.1,238.2 899.6,241 917,245.2 924.5,251.4 932,258.4 938.2,262.6" stroke="#00ff00" stroke-width="3.2"/>
<polyline points="0,315 12.5,294.5 21.9,275.8 29.9,259.8 35.9,247.9 41.9,239.9 47.9,231.9 53.8,226.9 60.8,222.4 69.8,216 77.8,211 84.7,208.5 91.7,207.2 98.5,207.3 106.3,211.3 116.3,217.5 124.9,221.3 142.1,229 154.5,235.2 169.5,246.4 179.5,257.7 189.4,272.6 199.4,285.1 211.9,300 224.3,312.5 236.8,322.5 250,329 260,329.9 269.9,333.2 279.9,339.9 289.9,351.1 299.9,366.1 308.6,376.1 316,381 329.8,384 343.5,386 357.2,391 370.9,394 379.6,396 392.6,396.5 404.5,394.7 417,391 429.5,383.5 441.9,376.1 454.4,367.3 466.9,358.6 476.8,349.9 486.8,341.2 500,331 512.5,320 527.4,308.8 547.4,298.8 560.6,288.8 574.8,276.4 588.5,263.9 602.2,252.7 616.7,245.2 630.1,239 644.6,232.7 653.3,229 658.8,225.5 672.5,214.7 686.4,207.2 700.6,198.5 714.4,192.2 729.3,186 744.3,179.8 750,177.3 760,169.8 769.9,164.8 782.4,160.6 796.1,156.1 811.1,153.6 821,153.6 829.8,157.3 839.7,163.6 849.7,171.1 860.9,179.8 874.6,188.5 884.6,193 897.1,197.2 909.5,201 917,203.5 924.5,209.7 932,217.2 938.2,223.4" stroke="#fff" stroke-opacity=".55" stroke-width="4.6"/><polyline points="0,315 12.5,294.5 21.9,275.8 29.9,259.8 35.9,247.9 41.9,239.9 47.9,231.9 53.8,226.9 60.8,222.4 69.8,216 77.8,211 84.7,208.5 91.7,207.2 98.5,207.3 106.3,211.3 116.3,217.5 124.9,221.3 142.1,229 154.5,235.2 169.5,246.4 179.5,257.7 189.4,272.6 199.4,285.1 211.9,300 224.3,312.5 236.8,322.5 250,329 260,329.9 269.9,333.2 279.9,339.9 289.9,351.1 299.9,366.1 308.6,376.1 316,381 329.8,384 343.5,386 357.2,391 370.9,394 379.6,396 392.6,396.5 404.5,394.7 417,391 429.5,383.5 441.9,376.1 454.4,367.3 466.9,358.6 476.8,349.9 486.8,341.2 500,331 512.5,320 527.4,308.8 547.4,298.8 560.6,288.8 574.8,276.4 588.5,263.9 602.2,252.7 616.7,245.2 630.1,239 644.6,232.7 653.3,229 658.8,225.5 672.5,214.7 686.4,207.2 700.6,198.5 714.4,192.2 729.3,186 744.3,179.8 750,177.3 760,169.8 769.9,164.8 782.4,160.6 796.1,156.1 811.1,153.6 821,153.6 829.8,157.3 839.7,163.6 849.7,171.1 860.9,179.8 874.6,188.5 884.6,193 897.1,197.2 909.5,201 917,203.5 924.5,209.7 932,217.2 938.2,223.4" stroke="#00c8ff" stroke-width="3.2"/>
<polyline points="0,286 7.5,285 14.5,283.5 21.5,277.6 28.5,286.8 35.5,364.8 42.5,392.3 49.5,346.1 56.5,342 63.5,338.7 70.5,358.6 77.5,342 84.5,325.7 91.5,329.9 98.5,344.8 105.5,358.8 112.5,395 119.5,358 126.5,352 133.5,378.6 140.5,425.9 147.5,428.4 154.5,457 161.5,485.1 168.5,450 175.5,419 182.5,400 189.5,385 196.5,372.2 203.5,369.5 210.5,390.8 217.5,399.5 224.5,379 231.5,369.4 238.5,365 245.5,355.5 252.5,365 259.5,336.9 266.5,336.3 273.5,334.5 280.5,332.5 287.5,346.3 294.5,323.1 301.5,345 308.5,333.8 315.5,342.4 322.5,333.7 329.5,315 336.5,281.3 343.5,271.4 350.5,265.1 357.5,268.9 364.5,268.4 371.5,275.1 378.5,260.2 385.5,270.1 392.5,278.9 399.5,260.2 406.5,258.4 413.5,217.2 420.5,219.7 427.5,215.9 434.5,208.4 441.5,203.5 448.5,203.7 455.5,204 462.5,220.9 469.5,255.9 476.5,252.7 483.5,229 490.5,201.5 497.5,207.2 504.5,196 511.5,174.8 518.5,179.8 525.5,186 532.5,176 539.5,196.5 546.5,188.5 553.5,144.9 560.5,131.7 567.5,135.7 574.5,140.7 581.5,139.2 588.5,152.9 595.5,153.1 602.5,152.4 609.5,148.6 616.5,153.1 623.5,153.6 630.5,158.6 637.5,146.1 644.5,129.9 651.5,146.1 658.5,168.6 665.5,153.6 672.5,153.6 679.5,179.8 686.5,215.9 693.5,232.5 700.5,249.5 707.5,250.8 714.5,240 721.5,275.8 728.5,239.2 735.5,261.7 742.5,228 749.5,195 756.5,201.7 763.5,205 770.5,204.7 777.5,216.7 784.5,266.7 791.5,285.8" stroke="#fff" stroke-opacity=".55" stroke-width="4.8" stroke-linejoin="miter" stroke-miterlimit="3"/>
<polyline points="0,286 7.5,285 14.5,283.5 21.5,277.6 28.5,286.8 35.5,364.8 42.5,392.3 49.5,346.1 56.5,342 63.5,338.7 70.5,358.6 77.5,342 84.5,325.7 91.5,329.9 98.5,344.8 105.5,358.8 112.5,395 119.5,358 126.5,352 133.5,378.6 140.5,425.9 147.5,428.4 154.5,457 161.5,485.1 168.5,450 175.5,419 182.5,400 189.5,385 196.5,372.2 203.5,369.5 210.5,390.8 217.5,399.5 224.5,379 231.5,369.4 238.5,365 245.5,355.5 252.5,365 259.5,336.9 266.5,336.3 273.5,334.5 280.5,332.5 287.5,346.3 294.5,323.1 301.5,345 308.5,333.8 315.5,342.4 322.5,333.7 329.5,315 336.5,281.3 343.5,271.4 350.5,265.1 357.5,268.9 364.5,268.4 371.5,275.1 378.5,260.2 385.5,270.1 392.5,278.9 399.5,260.2 406.5,258.4 413.5,217.2 420.5,219.7 427.5,215.9 434.5,208.4 441.5,203.5 448.5,203.7 455.5,204 462.5,220.9 469.5,255.9 476.5,252.7 483.5,229 490.5,201.5 497.5,207.2 504.5,196 511.5,174.8 518.5,179.8 525.5,186 532.5,176 539.5,196.5 546.5,188.5 553.5,144.9 560.5,131.7 567.5,135.7 574.5,140.7 581.5,139.2 588.5,152.9 595.5,153.1 602.5,152.4 609.5,148.6 616.5,153.1 623.5,153.6 630.5,158.6 637.5,146.1 644.5,129.9 651.5,146.1 658.5,168.6 665.5,153.6 672.5,153.6 679.5,179.8 686.5,215.9 693.5,232.5 700.5,249.5 707.5,250.8 714.5,240 721.5,275.8 728.5,239.2 735.5,261.7 742.5,228 749.5,195 756.5,201.7 763.5,205 770.5,204.7 777.5,216.7 784.5,266.7 791.5,285.8" stroke="#ff0000" stroke-width="3.5" stroke-linejoin="miter" stroke-miterlimit="3" stroke-linecap="butt"/>
<polyline points="0,286 7.5,285 14.5,283.5 21.5,277.6 28.5,286.8 35.5,364.8 42.5,392.3 49.5,346.1 56.5,342 63.5,338.7 70.5,358.6 77.5,342 84.5,325.7 91.5,329.9 98.5,344.8 105.5,358.8 112.5,395 119.5,358 126.5,352 133.5,378.6 140.5,425.9 147.5,428.4 154.5,457 161.5,485.1 168.5,450 175.5,419 182.5,400 189.5,385 196.5,372.2 203.5,369.5 210.5,390.8 217.5,399.5 224.5,379 231.5,369.4 238.5,365 245.5,355.5 252.5,365 259.5,336.9 266.5,336.3 273.5,334.5 280.5,332.5 287.5,346.3 294.5,323.1 301.5,345 308.5,333.8 315.5,342.4 322.5,333.7 329.5,315 336.5,281.3 343.5,271.4 350.5,265.1 357.5,268.9 364.5,268.4 371.5,275.1 378.5,260.2 385.5,270.1 392.5,278.9 399.5,260.2 406.5,258.4 413.5,217.2 420.5,219.7 427.5,215.9 434.5,208.4 441.5,203.5 448.5,203.7 455.5,204 462.5,220.9 469.5,255.9 476.5,252.7 483.5,229 490.5,201.5 497.5,207.2 504.5,196 511.5,174.8 518.5,179.8 525.5,186 532.5,176 539.5,196.5 546.5,188.5 553.5,144.9 560.5,131.7 567.5,135.7 574.5,140.7 581.5,139.2 588.5,152.9 595.5,153.1 602.5,152.4 609.5,148.6 616.5,153.1 623.5,153.6 630.5,158.6 637.5,146.1 644.5,129.9 651.5,146.1 658.5,168.6 665.5,153.6 672.5,153.6 679.5,179.8 686.5,215.9 693.5,232.5 700.5,249.5 707.5,250.8 714.5,240 721.5,275.8 728.5,239.2 735.5,261.7 742.5,228 749.5,195 756.5,201.7 763.5,205 770.5,204.7 777.5,216.7 784.5,266.7 791.5,285.8" stroke="#ff0000" stroke-width="1.8" stroke-linejoin="miter" stroke-miterlimit="12" stroke-linecap="butt"/>
</g>
<path d="M6.3 702.7h4.6v2.1h-4.6zM13.3 702.7h4.6v2.1h-4.6zM20.3 701h4.6v3.8h-4.6zM27.3 702.2h4.6v2.6h-4.6zM34.3 704h4.6v0.8h-4.6zM48.3 704.8h4.6v1.7h-4.6zM55.3 704.8h4.6v4.2h-4.6zM62.3 704.8h4.6v9.9h-4.6zM69.3 704.8h4.6v11.6h-4.6zM76.3 704.8h4.6v11.6h-4.6zM83.3 704.8h4.6v16.6h-4.6zM90.3 704.8h4.6v17.9h-4.6zM97.3 704.8h4.6v21.6h-4.6zM104.3 704.8h4.6v35.3h-4.6zM111.3 704.8h4.6v42.3h-4.6zM118.3 704.8h4.6v40.8h-4.6zM125.3 704.8h4.6v34.1h-4.6zM132.3 704.8h4.6v27.8h-4.6zM139.3 704.8h4.6v17.9h-4.6zM146.3 704.8h4.6v11.6h-4.6zM153.3 704.8h4.6v5.9h-4.6zM160.3 704h4.6v0.8h-4.6zM167.3 702.2h4.6v2.6h-4.6zM174.3 704.8h4.6v5.4h-4.6zM181.3 704.8h4.6v13.6h-4.6zM188.3 704.8h4.6v13.6h-4.6zM195.3 704.8h4.6v11.6h-4.6zM202.3 704.8h4.6v8.6h-4.6zM209.3 704.8h4.6v7.4h-4.6zM216.3 704.8h4.6v4.9h-4.6zM223.3 703.5h4.6v1.3h-4.6zM230.3 699h4.6v5.8h-4.6zM237.3 697.8h4.6v7h-4.6zM244.3 699.8h4.6v5h-4.6zM251.3 704.8h4.6v0.9h-4.6zM258.3 704.8h4.6v2.6h-4.6zM265.3 704.8h4.6v1.9h-4.6zM272.3 704.8h4.6v2.8h-4.6zM279.3 704.8h4.6v7.4h-4.6zM286.3 704.8h4.6v11.4h-4.6zM293.3 704.8h4.6v14.4h-4.6zM300.3 704.8h4.6v16.9h-4.6zM307.3 704.8h4.6v14.3h-4.6zM314.3 704.8h4.6v6.9h-4.6zM328.3 697.6h4.6v7.2h-4.6zM335.3 688.7h4.6v16.1h-4.6zM342.3 683.2h4.6v21.6h-4.6zM349.3 683.3h4.6v21.5h-4.6zM356.3 684.9h4.6v19.9h-4.6zM363.3 686.1h4.6v18.7h-4.6zM370.3 687.4h4.6v17.4h-4.6zM377.3 688.8h4.6v16h-4.6zM384.3 689.5h4.6v15.3h-4.6zM391.3 691.8h4.6v13h-4.6zM398.3 691.8h4.6v13h-4.6zM405.3 692.4h4.6v12.4h-4.6zM412.3 693.6h4.6v11.2h-4.6zM419.3 694.9h4.6v9.9h-4.6zM426.3 698.6h4.6v6.2h-4.6zM433.3 699h4.6v5.8h-4.6zM440.3 702.6h4.6v2.2h-4.6zM447.3 703.7h4.6v1.1h-4.6zM454.3 704.8h4.6v0.4h-4.6zM461.3 704.8h4.6v0.7h-4.6zM468.3 703.3h4.6v1.5h-4.6zM475.3 699.7h4.6v5.1h-4.6zM482.3 696.3h4.6v8.5h-4.6zM489.3 693.9h4.6v10.9h-4.6zM496.3 693.4h4.6v11.4h-4.6zM503.3 692.8h4.6v12h-4.6zM510.3 695.8h4.6v9h-4.6zM517.3 697.3h4.6v7.5h-4.6zM524.3 700.3h4.6v4.5h-4.6zM531.3 703.5h4.6v1.3h-4.6zM552.3 702.7h4.6v2.1h-4.6zM559.3 699.8h4.6v5h-4.6zM566.3 698.3h4.6v6.5h-4.6zM573.3 697.8h4.6v7h-4.6zM580.3 697.8h4.6v7h-4.6zM587.3 700.3h4.6v4.5h-4.6zM594.3 703.5h4.6v1.3h-4.6zM601.3 704.8h4.6v3.4h-4.6zM608.3 704.8h4.6v10.9h-4.6zM615.3 704.8h4.6v14.9h-4.6zM622.3 704.8h4.6v14.1h-4.6zM629.3 704.8h4.6v9.9h-4.6zM636.3 704.8h4.6v6.7h-4.6zM643.3 704.8h4.6v3.4h-4.6zM657.3 702.7h4.6v2.1h-4.6zM664.3 701.5h4.6v3.3h-4.6zM671.3 701.5h4.6v3.3h-4.6zM685.3 704.8h4.6v2.2h-4.6zM692.3 704h4.6v0.8h-4.6zM699.3 700.3h4.6v4.5h-4.6zM706.3 699h4.6v5.8h-4.6zM713.3 699h4.6v5.8h-4.6zM720.3 700.3h4.6v4.5h-4.6zM727.3 703.2h4.6v1.6h-4.6zM734.3 704.8h4.6v1.7h-4.6zM741.3 704.8h4.6v3.4h-4.6zM748.3 704.8h4.6v6.7h-4.6zM755.3 704.8h4.6v8.3h-4.6zM762.3 704.8h4.6v9.5h-4.6zM769.3 704.8h4.6v9.7h-4.6zM776.3 704.8h4.6v8.1h-4.6zM783.3 704.8h4.6v5h-4.6zM790.3 704.8h4.6v5.3h-4.6zM797.3 704.8h4.6v7.2h-4.6zM804.3 704.8h4.6v6.6h-4.6zM811.3 704.8h4.6v6h-4.6zM818.3 704.8h4.6v8.4h-4.6zM825.3 704.8h4.6v13.8h-4.6zM832.3 704.8h4.6v18.5h-4.6zM839.3 704.8h4.6v22.7h-4.6zM846.3 704.8h4.6v22.6h-4.6zM853.3 704.8h4.6v20.7h-4.6zM860.3 704.8h4.6v20h-4.6zM867.3 704.8h4.6v14.8h-4.6zM874.3 704.8h4.6v11.5h-4.6zM881.3 704.8h4.6v4.5h-4.6zM888.3 701.2h4.6v3.6h-4.6zM895.3 696.1h4.6v8.7h-4.6zM902.3 694h4.6v10.8h-4.6zM909.3 693.4h4.6v11.4h-4.6zM916.3 694.9h4.6v9.9h-4.6zM923.3 702.2h4.6v2.6h-4.6zM930.3 704.8h4.6v4.6h-4.6zM937.3 704.8h4.6v10.2h-4.6z" fill="#ffb6c1"/>
<g fill="none" stroke-linejoin="round" stroke-linecap="round">
<polyline points="0,647.4 10,644.9 22.4,643.7 37.4,645.4 49.9,647.9 61.1,655.4 77.3,662.4 84.7,670.3 92.2,676.6 98.5,683.3 104.7,697.8 112.2,716.5 119.6,723.9 134.6,724.7 149.6,721.4 162,718.9 169.5,718.9 174.5,727.7 183.2,738.9 191.9,740.1 204.4,737.6 211.9,738.9 219.3,736.4 226.8,731.4 234.3,729.7 243,730.7 250,734.5 257.5,737.1 265,735.6 273.7,736.4 279.9,741.4 287.4,747.6 294.9,753.8 301.6,758.8 308.6,758.8 316,752.6 324.8,745.1 329.8,740.1 336,731.4 343.5,723.9 351,720.9 357.2,719.7 364.7,715.2 370.9,711.5 379.6,706.5 385.8,702.7 392.6,700.3 399.6,696.5 406.5,693.5 413.3,691.5 420.7,689.8 427,690.8 434.4,689 441.4,690.8 449.4,690.8 455.6,691.5 462.4,691.5 469.3,689 476.8,684.1 484.3,679.1 491.8,674.8 500,672.3 507.5,671.6 513.7,672.3 519.9,670.8 527.4,671.6 531.9,673.3 549.9,670.3 559.8,666.6 572.3,664.1 582.3,662.9 589.7,663.6 597.2,666.6 603.4,671.6 609.7,677.8 616.7,682.3 623.4,682.8 630.1,680.3 642.1,679.1 649.6,677.8 655.8,675.8 664.5,675.8 672,675.8 679.5,679.1 686.4,680.3 693.2,676.6 700.6,671.6 707.6,669.8 714.4,669.6 721.8,670.3 729.3,673.3 736.8,676.6 744.3,678.3 750,680.3 760,684.8 768.7,687.8 776.2,688.5 783.6,686.5 791.1,688.5 798.6,692.3 804.8,693.3 812.3,694.5 819.3,699 826,706.5 833.5,715.2 839.7,722.7 846,726.9 853.4,729.4 860.9,734.4 868.4,733.4 875.1,734.4 882.1,730.2 888.3,723.9 897.1,718.2 904.5,715.2 912,713.5 917,713.5 924.5,719.7 932,726.4 938.2,730.7" stroke="#fff" stroke-opacity=".55" stroke-width="3.4"/><polyline points="0,647.4 10,644.9 22.4,643.7 37.4,645.4 49.9,647.9 61.1,655.4 77.3,662.4 84.7,670.3 92.2,676.6 98.5,683.3 104.7,697.8 112.2,716.5 119.6,723.9 134.6,724.7 149.6,721.4 162,718.9 169.5,718.9 174.5,727.7 183.2,738.9 191.9,740.1 204.4,737.6 211.9,738.9 219.3,736.4 226.8,731.4 234.3,729.7 243,730.7 250,734.5 257.5,737.1 265,735.6 273.7,736.4 279.9,741.4 287.4,747.6 294.9,753.8 301.6,758.8 308.6,758.8 316,752.6 324.8,745.1 329.8,740.1 336,731.4 343.5,723.9 351,720.9 357.2,719.7 364.7,715.2 370.9,711.5 379.6,706.5 385.8,702.7 392.6,700.3 399.6,696.5 406.5,693.5 413.3,691.5 420.7,689.8 427,690.8 434.4,689 441.4,690.8 449.4,690.8 455.6,691.5 462.4,691.5 469.3,689 476.8,684.1 484.3,679.1 491.8,674.8 500,672.3 507.5,671.6 513.7,672.3 519.9,670.8 527.4,671.6 531.9,673.3 549.9,670.3 559.8,666.6 572.3,664.1 582.3,662.9 589.7,663.6 597.2,666.6 603.4,671.6 609.7,677.8 616.7,682.3 623.4,682.8 630.1,680.3 642.1,679.1 649.6,677.8 655.8,675.8 664.5,675.8 672,675.8 679.5,679.1 686.4,680.3 693.2,676.6 700.6,671.6 707.6,669.8 714.4,669.6 721.8,670.3 729.3,673.3 736.8,676.6 744.3,678.3 750,680.3 760,684.8 768.7,687.8 776.2,688.5 783.6,686.5 791.1,688.5 798.6,692.3 804.8,693.3 812.3,694.5 819.3,699 826,706.5 833.5,715.2 839.7,722.7 846,726.9 853.4,729.4 860.9,734.4 868.4,733.4 875.1,734.4 882.1,730.2 888.3,723.9 897.1,718.2 904.5,715.2 912,713.5 917,713.5 924.5,719.7 932,726.4 938.2,730.7" stroke="#00ffff" stroke-width="2.0"/>
<polyline points="0,648.4 19.9,647.2 39.9,645.9 57.3,646.7 72.3,649.9 84.7,654.1 97.2,660.4 107.2,670.3 117.1,681.6 129.6,695.3 142.1,707.7 152,715.2 162,720.2 174.5,723.2 191.9,727.2 211.9,731.4 226.8,734.7 236.8,735.7 250,735 262.5,734.4 274.9,733.9 284.9,735.6 294.9,739.6 307.3,744.6 319.8,747.6 333.5,748.1 344.7,745.6 357.2,740.1 368.4,731.4 379.6,722.7 392.1,714 404.5,707.2 417,701.5 429.5,696.5 441.9,693.3 454.4,691.5 469.3,690.8 481.8,689 491.8,686.5 500,684.1 512.5,679.6 524.9,675.8 537.4,673.3 549.9,672.3 564.8,670.3 579.8,668.6 594.7,667.1 607.2,666.6 617.1,668.6 629.6,672.3 642.1,675.8 654.5,677.8 669.5,679.1 684.4,678.6 699.4,677.1 714.4,675.3 729.3,674.1 750,674 762.5,676.6 774.9,679.8 787.4,682.8 799.9,685.8 812.3,689 824.8,692.8 837.2,699 849.7,706.5 862.2,715.2 874.6,722.7 885.8,726.9 897.1,727.7 909.5,725.9 924.5,722.7 938.2,720.9" stroke="#fff" stroke-opacity=".55" stroke-width="3.8"/><polyline points="0,648.4 19.9,647.2 39.9,645.9 57.3,646.7 72.3,649.9 84.7,654.1 97.2,660.4 107.2,670.3 117.1,681.6 129.6,695.3 142.1,707.7 152,715.2 162,720.2 174.5,723.2 191.9,727.2 211.9,731.4 226.8,734.7 236.8,735.7 250,735 262.5,734.4 274.9,733.9 284.9,735.6 294.9,739.6 307.3,744.6 319.8,747.6 333.5,748.1 344.7,745.6 357.2,740.1 368.4,731.4 379.6,722.7 392.1,714 404.5,707.2 417,701.5 429.5,696.5 441.9,693.3 454.4,691.5 469.3,690.8 481.8,689 491.8,686.5 500,684.1 512.5,679.6 524.9,675.8 537.4,673.3 549.9,672.3 564.8,670.3 579.8,668.6 594.7,667.1 607.2,666.6 617.1,668.6 629.6,672.3 642.1,675.8 654.5,677.8 669.5,679.1 684.4,678.6 699.4,677.1 714.4,675.3 729.3,674.1 750,674 762.5,676.6 774.9,679.8 787.4,682.8 799.9,685.8 812.3,689 824.8,692.8 837.2,699 849.7,706.5 862.2,715.2 874.6,722.7 885.8,726.9 897.1,727.7 909.5,725.9 924.5,722.7 938.2,720.9" stroke="#00ff00" stroke-width="2.4"/>
</g>
<g font-family="Liberation Sans, sans-serif" font-size="12px" fill="#000" stroke="#000" stroke-width=".3" opacity=".995">
<text transform="translate(33.6,140.6) scale(.9,1)" x="-0.3 6.7 13.3 21.7 26.7 33.3 40">100<tspan font-weight="bold">.</tspan>948</text>
<text transform="translate(148.8,259) scale(.9,1)" x="0 6.7 15 20 26.7 33.3">99<tspan font-weight="bold">.</tspan>484</text>
<text transform="translate(92.8,371.6) scale(.9,1)" x="0 6.7 15 20 26.7 33.3">98<tspan font-weight="bold">.</tspan>240</text>
<text transform="translate(162.8,402.6) scale(.9,1)" x="0 6.7 15 20 26.7 33.3">97<tspan font-weight="bold">.</tspan>864</text>
<text transform="translate(211.9,314.6) scale(.9,1)" x="0 6.7 15 20 26.4 33.3">98<tspan font-weight="bold">.</tspan>818</text>
<text transform="translate(288.6,534.5) scale(.9,1)" x="0 6.7 15 20 26.7 33.3">96<tspan font-weight="bold">.</tspan>254</text>
<text transform="translate(323.5,341.4) scale(.9,1)" x="0 6.7 15 20 26.7 33.3">98<tspan font-weight="bold">.</tspan>480</text>
<text transform="translate(337.5,422.4) scale(.9,1)" x="0 6.7 15 20 26.4 33.3">97<tspan font-weight="bold">.</tspan>616</text>
<text transform="translate(379.5,397.4) scale(.9,1)" x="0 6.7 15 20 26.7 33.3">97<tspan font-weight="bold">.</tspan>920</text>
<text transform="translate(414.8,310.2) scale(.9,1)" x="0 6.7 15 20 26.7 33.3">98<tspan font-weight="bold">.</tspan>870</text>
<text transform="translate(435.6,374.2) scale(.9,1)" x="0 6.7 15 20 26.7 33.3">98<tspan font-weight="bold">.</tspan>204</text>
<text transform="translate(478.1,254.2) scale(.9,1)" x="0 6.7 15 20 26.7 33.3">99<tspan font-weight="bold">.</tspan>552</text>
<text transform="translate(513.1,293.2) scale(.9,1)" x="0 6.7 15 19.7 26.7 33.3">99<tspan font-weight="bold">.</tspan>197</text>
<text transform="translate(596.6,275.4) scale(.9,1)" x="0 6.7 15 20 26.4 33.3">99<tspan font-weight="bold">.</tspan>415</text>
<text transform="translate(566.9,187.4) scale(.9,1)" x="-0.3 6.7 13.3 21.7 26.7 33.3 40">100<tspan font-weight="bold">.</tspan>372</text>
<text transform="translate(678.8,118.6) scale(.9,1)" x="-0.3 6.7 13 21.7 26.7 33 40">101<tspan font-weight="bold">.</tspan>212</text>
<text transform="translate(713.8,175.4) scale(.9,1)" x="-0.3 6.7 13.3 21.7 26.7 33.3 40">100<tspan font-weight="bold">.</tspan>640</text>
<text transform="translate(763.1,124.2) scale(.9,1)" x="-0.3 6.7 13 21.7 26.4 33.3 40">101<tspan font-weight="bold">.</tspan>142</text>
<text transform="translate(867.5,185.4) scale(.9,1)" x="-0.3 6.7 13.3 21.7 26.7 33.3 40">100<tspan font-weight="bold">.</tspan>393</text>
<text transform="translate(841.9,323.2) scale(.9,1)" x="0 6.7 15 20 26.7 33.3">98<tspan font-weight="bold">.</tspan>826</text>
<text transform="translate(958,59.7) scale(.9,1)" x="-0.3 6.7 13.3 21.7 26.7 33.3">102<tspan font-weight="bold">.</tspan>00</text>
<text transform="translate(958,99.7) scale(.9,1)" x="-0.3 6.7 13 21.7 26.7 33.3">101<tspan font-weight="bold">.</tspan>50</text>
<text transform="translate(958,140.7) scale(.9,1)" x="-0.3 6.7 13 21.7 26.7 33.3">101<tspan font-weight="bold">.</tspan>00</text>
<text transform="translate(958,181.7) scale(.9,1)" x="-0.3 6.7 13.3 21.7 26.7 33.3">100<tspan font-weight="bold">.</tspan>50</text>
<text transform="translate(958,222.7) scale(.9,1)" x="-0.3 6.7 13.3 21.7 26.7 33.3">100<tspan font-weight="bold">.</tspan>00</text>
<text transform="translate(958,263.7) scale(.9,1)" x="0 6.7 15 20 26.7">99<tspan font-weight="bold">.</tspan>50</text>
<text transform="translate(958,304.7) scale(.9,1)" x="0 6.7 15 20 26.7">99<tspan font-weight="bold">.</tspan>00</text>
<text transform="translate(958,345.7) scale(.9,1)" x="0 6.7 15 20 26.7">98<tspan font-weight="bold">.</tspan>50</text>
<text transform="translate(958,386.7) scale(.9,1)" x="0 6.7 15 20 26.7">98<tspan font-weight="bold">.</tspan>00</text>
<text transform="translate(958,427.7) scale(.9,1)" x="0 6.7 15 20 26.7">97<tspan font-weight="bold">.</tspan>50</text>
<text transform="translate(958,467.7) scale(.9,1)" x="0 6.7 15 20 26.7">97<tspan font-weight="bold">.</tspan>00</text>
<text transform="translate(958,508.7) scale(.9,1)" x="0 6.7 15 20 26.7">96<tspan font-weight="bold">.</tspan>50</text>
<text transform="translate(958,549.7) scale(.9,1)" x="0 6.7 15 20 26.7">96<tspan font-weight="bold">.</tspan>00</text>
<text transform="translate(958,590.7) scale(.9,1)" x="0 6.7 15 20 26.7">95<tspan font-weight="bold">.</tspan>50</text>
<text transform="translate(958,454.7) scale(.9,1)" x="0 6.7 15 19.7 26.7 33">97<tspan font-weight="bold">.</tspan>171</text>
<text transform="translate(961,613.1) scale(.9,1)" x="-0.3 8.3 13.3 20 26.7">1<tspan font-weight="bold">.</tspan>000</text>
<text transform="translate(961,662.7) scale(.9,1)" x="0 8.3 13.3 20 26.7">0<tspan font-weight="bold">.</tspan>500</text>
<text transform="translate(958,752.7) scale(.9,1)" x="0.4 6.7 15 20 26.7 33.3">-0<tspan font-weight="bold">.</tspan>500</text>
<text transform="translate(958,802.5) scale(.9,1)" x="0.4 6.4 15 20 26.7 33.3">-1<tspan font-weight="bold">.</tspan>000</text>
<text transform="translate(20.6,814.7) scale(.9,1)" x="-0.3 6.7 15 20">10/9</text>
<text transform="translate(62.6,814.7) scale(.9,1)" x="-0.3 6.7 15 19.7 26.7">10/10</text>
<text transform="translate(118.6,814.7) scale(.9,1)" x="-0.3 6.7 15 19.7 26.7">10/13</text>
<text transform="translate(153.6,814.7) scale(.9,1)" x="-0.3 6.7 15 19.7 26.7">10/14</text>
<text transform="translate(195.6,814.7) scale(.9,1)" x="-0.3 6.7 15 19.7 26.7">10/15</text>
<text transform="translate(237.6,814.7) scale(.9,1)" x="-0.3 6.7 15 19.7 26.7">10/16</text>
<text transform="translate(279.6,814.7) scale(.9,1)" x="-0.3 6.7 15 19.7 26.7">10/17</text>
<text transform="translate(335.6,814.7) scale(.9,1)" x="-0.3 6.7 15 20 26.7">10/20</text>
<text transform="translate(370.6,814.7) scale(.9,1)" x="-0.3 6.7 15 20 26.4">10/21</text>
<text transform="translate(412.6,814.7) scale(.9,1)" x="-0.3 6.7 15 20 26.7">10/22</text>
<text transform="translate(454.6,814.7) scale(.9,1)" x="-0.3 6.7 15 20 26.7">10/23</text>
<text transform="translate(496.6,814.7) scale(.9,1)" x="-0.3 6.7 15 20 26.7">10/24</text>
<text transform="translate(552.6,814.7) scale(.9,1)" x="-0.3 6.7 15 20 26.7">10/27</text>
<text transform="translate(587.6,814.7) scale(.9,1)" x="-0.3 6.7 15 20 26.7">10/28</text>
<text transform="translate(629.6,814.7) scale(.9,1)" x="-0.3 6.7 15 20 26.7">10/29</text>
<text transform="translate(671.6,814.7) scale(.9,1)" x="-0.3 6.7 15 20 26.7">10/30</text>
<text transform="translate(713.6,814.7) scale(.9,1)" x="-0.3 6.7 15 20 26.4">10/31</text>
<text transform="translate(769.6,814.7) scale(.9,1)" x="-0.3 6.4 15 20">11/3</text>
<text transform="translate(804.6,814.7) scale(.9,1)" x="-0.3 6.4 15 20">11/4</text>
<text transform="translate(846.6,814.7) scale(.9,1)" x="-0.3 6.4 15 20">11/5</text>
<text transform="translate(888.6,814.7) scale(.9,1)" x="-0.3 6.4 15 20">11/6</text>
<text transform="translate(930.6,814.7) scale(.9,1)" x="-0.3 6.4 15 20">11/7</text>
</g>
<g font-family="Liberation Sans, sans-serif" font-size="12px" fill="#ff00ff" stroke="#ff00ff" stroke-width=".3" opacity=".995">
<text transform="translate(858.6,301.5) scale(.9,1)" x="0">3</text>
<text transform="translate(928.3,323.1) scale(.9,1)" x="0">2</text>
<text transform="translate(887,431.3) scale(.9,1)" x="0">4</text>
</g>
<g fill="none" stroke="#ff00ff" stroke-width="4.8" stroke-linecap="square" stroke-linejoin="round">
<polyline points="889.8,188.8 862.2,309.8 889.8,415.5"/><line x1="861.4" y1="309.9" x2="933.2" y2="309.9" stroke-linecap="butt" stroke-width="4.3"/>
</g>
<rect x="9.5" y="32.5" width="189" height="23" fill="#3d3c57" fill-opacity=".88" stroke="#45445c" stroke-width="1"/>
<text x="12" y="48" font-family="'Liberation Sans','Noto Sans CJK JP',sans-serif" font-size="12px" fill="#0c0c14" textLength="118.5" lengthAdjust="spacingAndGlyphs">テクニカル指標リスト</text>
<defs><radialGradient id="gl"><stop offset="0" stop-color="#fff"/><stop offset=".72" stop-color="#fff"/><stop offset="1" stop-color="#fff" stop-opacity="0"/></radialGradient></defs>
<circle cx="188.5" cy="41.5" r="8.5" fill="url(#gl)"/>
<path d="M185 38.5h7.5v6.5h-7.5z M186 40.5h5.5v3.5h-5.5z" fill="#2a1418" fill-rule="evenodd"/>
</svg>
<svg width="1003" height="23" viewBox="0 0 1003 23" style="position:absolute;left:0;top:0"><rect width="1003" height="23" fill="#f0f0f0"/><rect x="0.5" y="2.5" width="127" height="19" rx="2.5" fill="#fff" stroke="#b4b4b4"/><rect x="1" y="4" width="109" height="16" fill="#000"/><rect x="3" y="7" width="16" height="11" fill="#1c2b7c"/><path d="M3 7l8 5.5M11 7l-8 5.5" stroke="#fff" stroke-width="1.4"/><path d="M7 7v5.5M3 9.750h8" stroke="#fff" stroke-width="1.8"/><path d="M3 7l8 5.5M11 7l-8 5.5" stroke="#e03" stroke-width=".5"/><path d="M7 7v5.5M3 9.750h8" stroke="#e03" stroke-width=".9"/><g fill="#fff"><circle cx="7" cy="15.5" r="1.1"/><circle cx="15" cy="9" r=".8"/><circle cx="13" cy="11.8" r=".8"/><circle cx="17" cy="11" r=".8"/><circle cx="15" cy="15.5" r=".8"/></g><text x="20.3" y="17.500" font-family="Liberation Sans, sans-serif" font-size="12px" fill="#fff">/</text><rect x="25.5" y="7" width="16" height="11" fill="#fff" stroke="#bbb" stroke-width=".8"/><circle cx="33.3" cy="12.5" r="3.6" fill="#f00"/><text x="44.7" y="17.500" font-family="Liberation Sans, sans-serif" font-size="12px" fill="#fff" textLength="49.5" lengthAdjust="spacingAndGlyphs">AUD/JPY</text><path d="M116 10.5l4 4l4-4" fill="none" stroke="#5a5a5a" stroke-width="1"/><rect x="134.0" y="2.5" width="70" height="19" rx="2.5" fill="#fff" stroke="#b4b4b4"/><text x="137.3" y="16.5" font-family="'Liberation Sans','Noto Sans CJK JP',sans-serif" font-size="11px" fill="#000" textLength="40.2" lengthAdjust="spacingAndGlyphs">4時間足</text><path d="M192 10.5l4 4l4-4" fill="none" stroke="#5a5a5a" stroke-width="1"/><rect x="209.5" y="2.5" width="94.5" height="19" rx="2.5" fill="#fff" stroke="#b4b4b4"/><text x="213.5" y="16.5" font-family="'Liberation Sans','Noto Sans CJK JP',sans-serif" font-size="11px" fill="#000" textLength="35" lengthAdjust="spacingAndGlyphs">ローソク</text><path d="M291 10.5l4 4l4-4" fill="none" stroke="#5a5a5a" stroke-width="1"/><rect x="309.5" y="2.5" width="61" height="19" rx="2.5" fill="#fff" stroke="#7a7a7a"/><rect x="311" y="4" width="43.5" height="16" fill="#000"/><path d="M324.5 6.5v2.5M324.5 15v2.5" stroke="#fff" stroke-width="1.2"/><rect x="322.6" y="9" width="3.8" height="6" fill="none" stroke="#fff" stroke-width="1.2"/><path d="M359 10.5l4 4l4-4" fill="none" stroke="#5a5a5a" stroke-width="1"/><rect x="378.5" y="2.5" width="157" height="19" rx="4" fill="#fff" stroke="#d6d6d6"/><text x="380.8" y="16.5" font-family="'Liberation Sans','Noto Sans CJK JP',sans-serif" font-size="11px" fill="#000" textLength="33.5" lengthAdjust="spacingAndGlyphs">折れ線</text><rect x="546.5" y="3.5" width="61" height="19" rx="3.5" fill="#fdfdfd" stroke="#d0d0d0"/><text x="562.6" y="17.5" font-family="'Liberation Sans','Noto Sans CJK JP',sans-serif" font-size="11px" fill="#000" textLength="29.8" lengthAdjust="spacingAndGlyphs">設定...</text></svg>
</body></html>
